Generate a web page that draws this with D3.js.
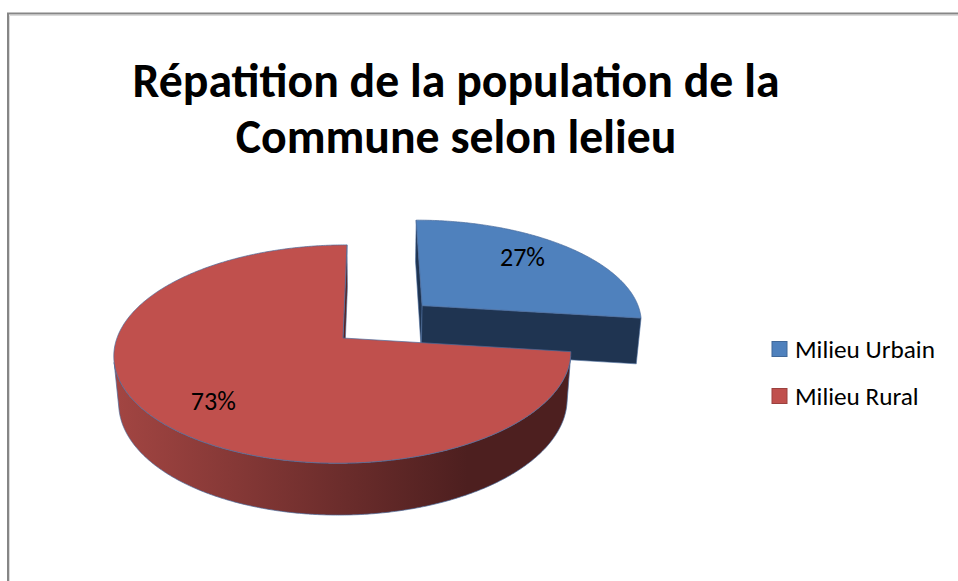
<!DOCTYPE html>
<html>
<head>
<meta charset="utf-8">
<script src="https://cdnjs.cloudflare.com/ajax/libs/d3/7.8.5/d3.min.js"></script>
<style>
  body { margin: 0; background: #fff; }
  svg { display: block; }
</style>
</head>
<body>
<div id="chart"></div>
<script>

var categories = ["Milieu Urbain", "Milieu Rural"];
var values = [27, 73];
var titleLines = ["Répatition de la population de la", "Commune selon lelieu"];

var topColors = ["#4F81BD", "#C0504D"];
var faceColors = ["#1F3451", "#5A2322"];
var wallLight = ["#5B86BB", "#A24542"];
var wallDark = ["#1F3451", "#4D1F1F"];
var explodeBy = [0.48, 0];

var W = 958, H = 581;
var fontStack = "Carlito, Calibri, Lato, 'Open Sans', sans-serif";

var svg = d3.select("#chart")
    .append("svg")
    .attr("width", W)
    .attr("height", H);

// chart area frame (only top and left edges are in the shot)
svg.append("path")
    .attr("d", "M8,581V13.5H958")
    .attr("fill", "none")
    .attr("stroke", "#868686")
    .attr("stroke-width", 2);
svg.append("path")
    .attr("d", "M9.5,581V15.5H958")
    .attr("fill", "none")
    .attr("stroke", "#dadada")
    .attr("stroke-width", 1);

// title, sized to the width it has in the picture
var title = svg.append("g").attr("font-family", fontStack).attr("font-weight", "bold")
    .attr("text-anchor", "middle").attr("fill", "#000");
var t1 = title.append("text").attr("x", 456).attr("y", 97).attr("font-size", 48).text(titleLines[0]);
var titleSize = 48 * 647 / t1.node().getComputedTextLength();
t1.attr("font-size", titleSize);
title.append("text").attr("x", 456).attr("y", 153).attr("font-size", titleSize).text(titleLines[1]);

// 3d pie : disc of radius R seen from above with a bit of perspective
var R = 226, depth = 54,
    tilt = 28.2 * Math.PI / 180,
    dist = 1355, camX = 31,
    ox = 343, oy = 338;

var cam = [camX, dist * Math.sin(tilt), dist * Math.cos(tilt)];

function project(p) {
    var u = p[1] * Math.cos(tilt) - p[2] * Math.sin(tilt);
    var d = p[1] * Math.sin(tilt) + p[2] * Math.cos(tilt);
    var s = dist / (dist - d);
    return [ox + camX + (p[0] - camX) * s, oy - u * s];
}

function facing(n, p) {
    return n[0] * (cam[0] - p[0]) + n[1] * (cam[1] - p[1]) + n[2] * (cam[2] - p[2]) > 0;
}

var line = d3.line().x(function (d) { return d[0]; }).y(function (d) { return d[1]; });

var pie = d3.pie().sort(null).value(function (d) { return d; });
var arcs = pie(values);

var defs = svg.append("defs");
var step = Math.PI / 360;
var edgeStroke = "#4a6c9c";

var pieG = svg.append("g");

arcs.forEach(function (a, i) {
    var mid = (a.startAngle + a.endAngle) / 2;
    var off = explodeBy[i] * R;
    var ex = off * Math.sin(mid), ez = -off * Math.cos(mid);
    var rim = function (t, y) { return [ex + R * Math.sin(t), y, ez - R * Math.cos(t)]; };
    var center = function (y) { return [ex, y, ez]; };
    var g = pieG.append("g").attr("class", "slice");

    var grad = defs.append("linearGradient")
        .attr("id", "wall" + i)
        .attr("gradientUnits", "userSpaceOnUse")
        .attr("x1", ox - R).attr("x2", ox + 0.55 * R)
        .attr("y1", 0).attr("y2", 0);
    grad.append("stop").attr("offset", 0).attr("stop-color", wallLight[i]);
    grad.append("stop").attr("offset", 1).attr("stop-color", wallDark[i]);

    // cut faces
    [[a.startAngle, a.startAngle - Math.PI / 2], [a.endAngle, a.endAngle + Math.PI / 2]].forEach(function (f) {
        var n = [Math.sin(f[1]), 0, -Math.cos(f[1])];
        if (!facing(n, rim(f[0], 0))) return;
        var pts = [center(0), rim(f[0], 0), rim(f[0], -depth), center(-depth)].map(project);
        g.append("path")
            .attr("d", line(pts) + "Z")
            .attr("fill", faceColors[i])
            .attr("stroke", edgeStroke)
            .attr("stroke-width", 0.6);
    });

    // outer wall, only the part turned to the viewer
    var vis = [];
    for (var t = a.startAngle; t <= a.endAngle + 1e-9; t += step) {
        var tt = Math.min(t, a.endAngle);
        if (facing([Math.sin(tt), 0, -Math.cos(tt)], rim(tt, 0))) vis.push(tt);
    }
    if (vis.length > 1) {
        var topPts = vis.map(function (t) { return project(rim(t, 0)); });
        var botPts = vis.slice().reverse().map(function (t) { return project(rim(t, -depth)); });
        g.append("path")
            .attr("d", line(topPts.concat(botPts)) + "Z")
            .attr("fill", "url(#wall" + i + ")")
            .attr("stroke", edgeStroke)
            .attr("stroke-width", 0.7);
    }

    // top face
    var pts = [project(center(0))];
    for (var t2 = a.startAngle; t2 < a.endAngle; t2 += step) pts.push(project(rim(t2, 0)));
    pts.push(project(rim(a.endAngle, 0)));
    g.append("path")
        .attr("d", line(pts) + "Z")
        .attr("fill", topColors[i])
        .attr("stroke", edgeStroke)
        .attr("stroke-width", 0.7);

    // percentage label
    var la = mid - 5 * Math.PI / 180, lr = 0.75 * R;
    var lp = project([ex + lr * Math.sin(la), 0, ez - lr * Math.cos(la)]);
    var pct = Math.round(100 * a.value / d3.sum(values)) + "%";
    g.append("text")
        .attr("class", "lbl")
        .attr("x", lp[0]).attr("y", lp[1])
        .attr("dy", "0.35em")
        .attr("text-anchor", "middle")
        .attr("font-family", fontStack)
        .attr("font-size", 26)
        .attr("fill", "#000")
        .text(pct);
});

// labels fitted to the width of "27%" in the picture
var lbl = svg.selectAll("text.lbl");
var lblSize = 26 * 45 / lbl.node().getComputedTextLength();
lbl.attr("font-size", lblSize);

// legend
var ly = d3.scalePoint().domain(categories).range([349, 396]);
var legend = svg.append("g").attr("font-family", fontStack);
var items = legend.selectAll("g")
    .data(categories)
    .enter()
    .append("g")
    .attr("transform", function (d) { return "translate(772," + ly(d) + ")"; });
items.append("rect")
    .attr("x", 0).attr("y", -7.5)
    .attr("width", 15).attr("height", 15)
    .attr("fill", function (d, i) { return topColors[i]; })
    .attr("stroke", function (d, i) { return d3.color(topColors[i]).darker(0.6); })
    .attr("stroke-width", 1);
var legTexts = items.append("text")
    .attr("x", 23).attr("y", 0)
    .attr("dy", "0.36em")
    .attr("font-size", 22)
    .attr("fill", "#000")
    .text(function (d) { return d; });
var legSize = 22 * 140 / legTexts.node().getComputedTextLength();
legTexts.attr("font-size", legSize);

</script>
</body>
</html>
